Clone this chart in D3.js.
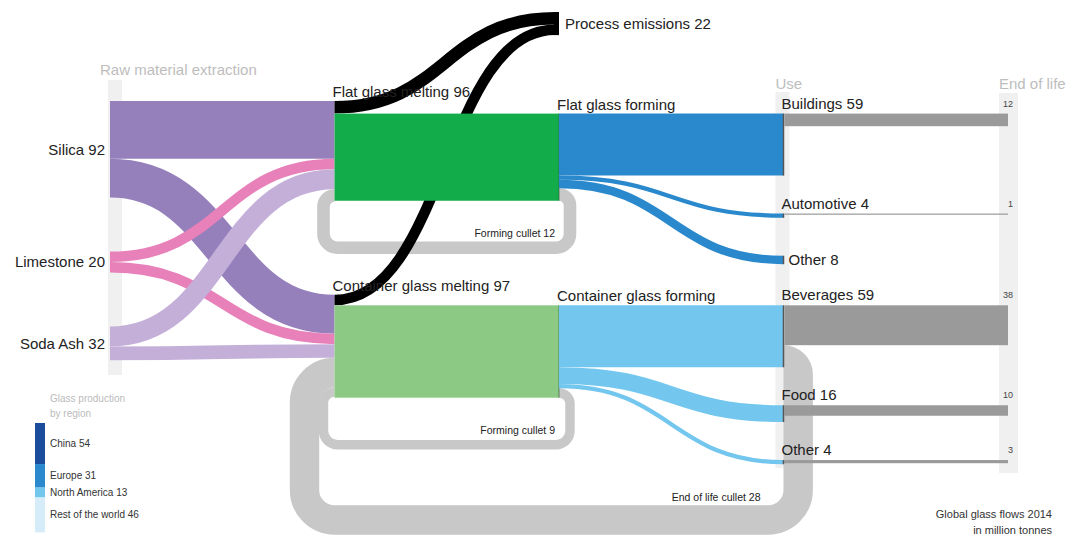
<!DOCTYPE html>
<html>
<head>
<meta charset="utf-8">
<script src="https://cdn.jsdelivr.net/npm/d3@7"></script>
<style>
  body { margin: 0; background: #fff; }
  svg { display: block; font-family: "Liberation Sans", Arial, sans-serif; }
</style>
</head>
<body>
<div id="vis"></div>
<script>
// ---- data (million tonnes, 2014) ----
const rawNames = ["Silica", "Limestone", "Soda Ash"];
const rawValues = [92, 20, 32];
const meltNames = ["Flat glass melting", "Container glass melting"];
const meltValues = [96, 97];
const formNames = ["Flat glass forming", "Container glass forming"];
// batch from each raw material into [flat, container] melting
const batchFlows = [[55, 37], [10, 10], [19, 13]];
const emissionLabel = "Process emissions";
const emissionValues = [12, 10];
const emissionTotal = 22;
const useNames = [["Buildings", "Automotive", "Other"], ["Beverages", "Food", "Other"]];
const useValues = [[59, 4, 8], [59, 16, 4]];
const eolValues = [[12, 1, 0], [38, 10, 3]];
const formingCullet = [12, 9];
const eolCullet = 28;
const columnTitles = ["Raw material extraction", "Use", "End of life"];
const regionNames = ["China", "Europe", "North America", "Rest of the world"];
const regionValues = [54, 31, 13, 46];

// ---- styles ----
const rawColors = ["#9580bb", "#e880b9", "#c4afd9"];
const meltColors = ["#12ad4a", "#8cc985"];
const formColors = ["#2a88cc", "#73c7ee"];
const regionColors = ["#1b4d9c", "#2a88cc", "#73c7ee", "#d6edf9"];
const culletColor = "#c8c8c8";
const eolColor = "#9a9a9a";

const width = 1075, height = 537;

const x = d3.scalePoint()
    .domain(["raw", "melt", "form", "use", "eol"])
    .range([110, 1008]);
const k = d3.scaleLinear().domain([0, 1]).range([0, 1.05]); // value -> px thickness

const topY = 101, rawGap = 54, meltGap = 93, useGap = 38;
const emX = x("form") - 4, emY0 = 12;
const eolLoopBottom = 520;

const svg = d3.select("#vis").append("svg")
    .attr("width", width)
    .attr("height", height);

const link = d3.linkHorizontal().x(d => d[0]).y(d => d[1]);

// ---- layout ----
let yy = topY;
const raws = rawNames.map((name, i) => {
  const n = { name, value: rawValues[i], y0: yy, out: yy };
  yy += k(rawValues[i]) + rawGap;
  return n;
});

const melts = meltNames.map((name, m) => {
  const y0 = m === 0 ? topY : topY + k(meltValues[0]) + meltGap;
  const boxTop = y0 + k(emissionValues[m]);
  const boxBottom = boxTop + k(d3.sum(useValues[m]) + formingCullet[m]);
  return { name, value: meltValues[m], y0, inY: y0, boxTop, boxBottom };
});

const rawLinks = [];
raws.forEach((r, i) => {
  melts.forEach((mt, m) => {
    const v = batchFlows[i][m];
    const w = k(v);
    rawLinks.push({ color: rawColors[i], w, s: [x("raw"), r.out + w / 2], t: [x("melt"), mt.inY + w / 2] });
    r.out += w;
    mt.inY += w;
  });
});

// end of life cullet enters container melting, then forming cullet
const eolIn = melts[1].inY + k(eolCullet) / 2;
melts[1].inY += k(eolCullet);
const cullIn = melts.map((mt, m) => {
  const c = mt.inY + k(formingCullet[m]) / 2;
  mt.inY += k(formingCullet[m]);
  return c;
});

// emissions
let emOff = emY0;
const emLinks = melts.map((mt, m) => {
  const w = k(emissionValues[m]);
  const l = { w, s: [x("melt"), mt.y0 + w / 2], t: [emX, emOff + w / 2] };
  emOff += w;
  return l;
});

// forming -> use
const uses = [], formLinks = [], cullOut = [];
melts.forEach((mt, m) => {
  let out = mt.boxTop, uy = mt.boxTop;
  useNames[m].forEach((name, j) => {
    const v = useValues[m][j], w = k(v);
    uses.push({ name, value: v, eol: eolValues[m][j], y0: uy, h: w });
    formLinks.push({ color: formColors[m], w, s: [x("form"), out + w / 2], t: [x("use"), uy + w / 2] });
    out += w;
    uy += w + useGap;
  });
  cullOut.push(out + k(formingCullet[m]) / 2);
});

function loopPath(x0, y0, rs, yb, rb, x1, y1, re) {
  const xr = x0 + rs, xl = x1 - re;
  return `M${x0},${y0} A${rs},${rs} 0 0 1 ${xr},${y0 + rs}` +
    ` V${yb - rb} A${rb},${rb} 0 0 1 ${xr - rb},${yb}` +
    ` H${xl + rb} A${rb},${rb} 0 0 1 ${xl},${yb - rb}` +
    ` V${y1 + re} A${re},${re} 0 0 1 ${x1},${y1}`;
}

// ---- column backdrops ----
const colBars = [
  { x: x("raw") - 2, w: 14, y0: 80, y1: 375 },
  { x: x("use") - 8, w: 14, y0: 92, y1: 468 },
  { x: x("eol") - 9, w: 19, y0: 93, y1: 473 }
];
svg.append("g").selectAll("rect").data(colBars).join("rect")
    .attr("x", d => d.x).attr("y", d => d.y0)
    .attr("width", d => d.w).attr("height", d => d.y1 - d.y0)
    .attr("fill", "#f0f0f0");

svg.append("g").selectAll("text").data(columnTitles).join("text")
    .attr("x", (d, i) => [x("raw") - 10, x("use") - 8, x("eol") - 9][i])
    .attr("y", (d, i) => i === 0 ? 75 : 89)
    .attr("fill", "#bdbdbd")
    .attr("font-size", 15)
    .text(d => d);

// ---- cullet loops ----
const beverages = uses[3];
const loops = [
  { w: k(eolCullet), d: loopPath(x("use"), beverages.y0 + k(beverages.eol) + k(eolCullet) / 2, k(eolCullet) / 2,
      eolLoopBottom, 30, x("melt"), eolIn, 30) }
].concat(melts.map((mt, m) => ({
  w: k(formingCullet[m]),
  d: loopPath(x("form"), cullOut[m], 11, mt.boxBottom + 47, 14, x("melt"), cullIn[m], 11)
})));
svg.append("g")
    .attr("fill", "none")
    .attr("stroke", culletColor)
  .selectAll("path").data(loops).join("path")
    .attr("d", d => d.d)
    .attr("stroke-width", d => d.w);

// ---- raw material flows ----
svg.append("g").attr("fill", "none")
  .selectAll("path").data(rawLinks).join("path")
    .attr("d", d => link({ source: d.s, target: d.t }))
    .attr("stroke", d => d.color)
    .attr("stroke-width", d => d.w);

// ---- process emissions ----
svg.append("g").attr("fill", "none").attr("stroke", "#000")
  .selectAll("path").data(emLinks).join("path")
    .attr("d", d => link({ source: d.s, target: d.t }))
    .attr("stroke-width", d => d.w);
svg.append("rect")
    .attr("x", emX - 1).attr("y", emY0)
    .attr("width", 5).attr("height", k(emissionTotal))
    .attr("fill", "#000");
svg.append("text")
    .attr("x", emX + 10).attr("y", emY0 + k(emissionTotal) / 2)
    .attr("dy", "0.35em").attr("font-size", 15).attr("fill", "#222")
    .text(`${emissionLabel} ${emissionTotal}`);

// ---- melting boxes ----
svg.append("g").selectAll("rect").data(melts).join("rect")
    .attr("x", x("melt")).attr("y", d => d.boxTop)
    .attr("width", x("form") - x("melt"))
    .attr("height", d => d.boxBottom - d.boxTop)
    .attr("fill", (d, m) => meltColors[m]);
svg.append("g").selectAll("line").data(melts).join("line")
    .attr("x1", x("form")).attr("x2", x("form"))
    .attr("y1", d => d.boxTop).attr("y2", d => d.boxBottom)
    .attr("stroke", "#355e3b").attr("stroke-opacity", 0.7);

// ---- forming -> use flows ----
svg.append("g").attr("fill", "none")
  .selectAll("path").data(formLinks).join("path")
    .attr("d", d => link({ source: d.s, target: d.t }))
    .attr("stroke", d => d.color)
    .attr("stroke-width", d => d.w);

// ---- end of life bars ----
svg.append("g").selectAll("rect").data(uses.filter(d => d.eol > 0)).join("rect")
    .attr("x", x("use") + 1).attr("y", d => d.y0)
    .attr("width", x("eol") - x("use") - 1)
    .attr("height", d => Math.max(1.2, k(d.eol)))
    .attr("fill", eolColor);
svg.append("g").selectAll("text").data(uses.filter(d => d.eol > 0)).join("text")
    .attr("x", x("eol") + 5).attr("y", d => d.y0 - 7)
    .attr("text-anchor", "end").attr("font-size", 9).attr("fill", "#444")
    .text(d => d.eol);

// use nodes
svg.append("g").selectAll("rect").data(uses).join("rect")
    .attr("x", x("use") - 0.75).attr("y", d => d.y0)
    .attr("width", 1.5).attr("height", d => d.h)
    .attr("fill", "#555");

// ---- labels ----
const label = svg.append("g").attr("font-size", 15).attr("fill", "#222");
label.selectAll(".raw").data(raws).join("text")
    .attr("x", x("raw") - 5).attr("y", d => d.y0 + k(d.value) / 2)
    .attr("dy", "0.35em").attr("text-anchor", "end")
    .text(d => `${d.name} ${d.value}`);
label.selectAll(".melt").data(melts).join("text")
    .attr("x", x("melt") - 2).attr("y", d => d.y0 - 4)
    .text(d => `${d.name} ${d.value}`);
label.selectAll(".form").data(melts).join("text")
    .attr("x", x("form") - 2).attr("y", d => d.boxTop - 4)
    .text((d, m) => formNames[m]);
label.selectAll(".use").data(uses).join("text")
    .attr("x", d => d.eol > 0 ? x("use") - 2 : x("use") + 5)
    .attr("y", d => d.eol > 0 ? d.y0 - 5 : d.y0 + d.h / 2)
    .attr("dy", d => d.eol > 0 ? 0 : "0.35em")
    .text(d => `${d.name} ${d.value}`);

const small = svg.append("g").attr("font-size", 10.5).attr("fill", "#222").attr("text-anchor", "end");
small.selectAll("text").data(melts).join("text")
    .attr("x", x("form") - 4).attr("y", d => d.boxBottom + 36)
    .text((d, m) => `Forming cullet ${formingCullet[m]}`);
small.append("text")
    .attr("x", x("use") - 23).attr("y", eolLoopBottom - 19)
    .text(`End of life cullet ${eolCullet}`);

// ---- legend ----
const lk = d3.scaleLinear().domain([0, 1]).range([0, 0.76]);
let ly = 423;
const legend = regionNames.map((name, i) => {
  const d = { name, value: regionValues[i], color: regionColors[i], y0: ly, h: lk(regionValues[i]) };
  ly += d.h;
  return d;
});
const lg = svg.append("g");
lg.selectAll("text.t").data(["Glass production", "by region"]).join("text")
    .attr("class", "t")
    .attr("x", 50).attr("y", (d, i) => 402 + i * 15)
    .attr("font-size", 10).attr("fill", "#bbb")
    .text(d => d);
lg.selectAll("rect").data(legend).join("rect")
    .attr("x", 35).attr("y", d => d.y0)
    .attr("width", 10).attr("height", d => d.h)
    .attr("fill", d => d.color);
lg.selectAll("text.r").data(legend).join("text")
    .attr("class", "r")
    .attr("x", 50).attr("y", d => d.y0 + d.h / 2)
    .attr("dy", "0.35em")
    .attr("font-size", 10).attr("fill", "#333")
    .text(d => `${d.name} ${d.value}`);

svg.append("g").attr("font-size", 11).attr("fill", "#333").attr("text-anchor", "end")
  .selectAll("text").data(["Global glass flows 2014", "in million tonnes"]).join("text")
    .attr("x", 1052).attr("y", (d, i) => 518 + i * 16)
    .text(d => d);
</script>
</body>
</html>
